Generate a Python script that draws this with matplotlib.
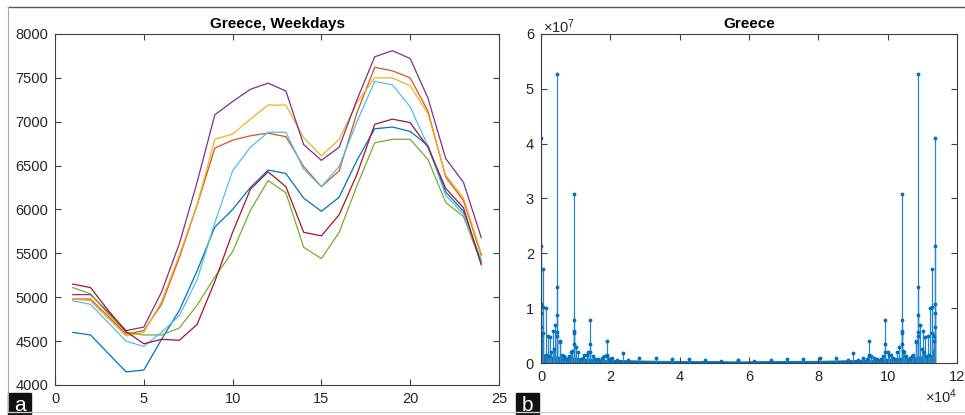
import numpy as np
import matplotlib
matplotlib.use("Agg")
import matplotlib.pyplot as plt
from matplotlib.lines import Line2D
from matplotlib.patches import Rectangle

plt.rcParams['font.family'] = ['Liberation Sans', 'DejaVu Sans']
plt.rcParams['mathtext.fontset'] = 'custom'
plt.rcParams['mathtext.rm'] = 'Liberation Sans'

# ---------------- Panel a data ----------------
hours = list(range(1, 25))
s_blue = [4600, 4570, 4360, 4150, 4170, 4520, 4850, 5300, 5800, 6000, 6250, 6450,
          6410, 6130, 5980, 6140, 6560, 6920, 6940, 6890, 6730, 6200, 5980, 5400]
s_orange = [4980, 4980, 4780, 4580, 4620, 4920, 5450, 6050, 6700, 6790, 6840, 6870,
            6830, 6490, 6260, 6440, 7100, 7620, 7580, 7500, 7120, 6370, 6100, 5480]
s_yellow = [4980, 4960, 4760, 4560, 4600, 4950, 5480, 6050, 6800, 6860, 7030, 7190,
            7190, 6820, 6610, 6800, 7220, 7500, 7500, 7410, 7090, 6390, 6130, 5500]
s_purple = [5030, 5030, 4830, 4620, 4660, 5060, 5610, 6310, 7080, 7230, 7370, 7440,
            7350, 6740, 6560, 6710, 7250, 7740, 7810, 7720, 7270, 6580, 6310, 5680]
s_green = [5110, 5040, 4810, 4600, 4570, 4570, 4650, 4910, 5230, 5520, 5990, 6330,
           6190, 5570, 5440, 5740, 6270, 6760, 6800, 6800, 6570, 6080, 5920, 5390]
s_lightblue = [4960, 4920, 4710, 4500, 4440, 4600, 4790, 5200, 5850, 6440, 6710, 6880,
               6880, 6460, 6260, 6490, 7000, 7460, 7420, 7170, 6720, 6160, 5950, 5430]
s_red = [5150, 5110, 4850, 4610, 4470, 4520, 4510, 4690, 5180, 5740, 6230, 6430,
         6260, 5740, 5700, 5940, 6400, 6970, 7030, 6990, 6710, 6240, 6020, 5370]
series_a = [s_blue, s_orange, s_yellow, s_purple, s_green, s_lightblue, s_red]
colors_a = ['#0072BD', '#D95319', '#EDB120', '#7E2F8E', '#77AC30', '#4DBEEE', '#A2142F']

# ---------------- Panel b data ----------------
N_bins = 113520  # length of spectrum (symmetric)
spike_bins = [1, 2, 3, 5, 8, 13, 20,
              670, 676, 682, 1352, 1500, 2028, 2400, 2704, 3000, 3380, 3700, 4054,
              4716, 4723, 4730, 4737, 4744, 5406, 5470, 6082, 6500, 7000, 7500, 8200,
              8780, 9000, 9446, 9453, 9460, 9467, 9474, 10136, 10812, 11500, 12000,
              12500, 13200, 13514, 14183, 14190, 14197, 14866, 15500, 16500, 17500,
              18244, 18913, 18920, 18927, 19596, 20500, 22000, 23650, 25000, 28380,
              33110, 37840, 42570, 47300, 52030, 56760]
spike_vals = [4.10, 2.13, 1.07, 0.92, 0.65, 0.50, 0.40,
              1.03, 1.72, 0.55, 1.00, 0.15, 0.50, 0.12, 0.48, 0.20, 0.58, 0.25, 0.70,
              0.57, 0.88, 5.27, 1.38, 0.50, 0.40, 0.38, 0.15, 0.12, 0.10, 0.08, 0.12,
              0.20, 0.22, 0.55, 0.79, 3.08, 0.58, 0.35, 0.30, 0.20, 0.08, 0.10,
              0.15, 0.15, 0.20, 0.35, 0.78, 0.20, 0.12, 0.08, 0.07, 0.10,
              0.12, 0.15, 0.40, 0.12, 0.08, 0.10, 0.05, 0.18, 0.06, 0.10,
              0.09, 0.07, 0.08, 0.06, 0.04, 0.05]
floor_bins = [0, 200, 500, 1000, 2500, 5000, 7500, 10000, 12500, 15000, 17500,
              20000, 25000, 30000, 35000, 40000, 45000, 50000, 55000, 56760]
floor_vals = [0.50, 0.30, 0.18, 0.14, 0.12, 0.12, 0.09, 0.10, 0.08, 0.08, 0.06,
              0.06, 0.05, 0.045, 0.04, 0.04, 0.035, 0.035, 0.03, 0.03]
b_xticks = [0, 2, 4, 6, 8, 10, 12]      # x1e4
b_yticks = [0, 1, 2, 3, 4, 5, 6]        # x1e7

# ---------------- Figure ----------------
fig = plt.figure(figsize=(9.65, 4.15), dpi=100)
W, H = 965, 415

def ax_rect(l, r, t, b):
    return [l / W, (H - b) / H, (r - l) / W, (b - t) / H]

axcol = '#404040'
txtcol = '#262626'

def style(ax):
    for sp in ax.spines.values():
        sp.set_color(axcol)
        sp.set_linewidth(0.8)
    ax.tick_params(direction='in', top=True, right=True, length=4, width=0.8,
                   color=axcol, labelcolor=txtcol, labelsize=10.5, pad=5)

# Panel a
ax1 = fig.add_axes(ax_rect(55, 499, 34, 385))
for s, c in zip(series_a, colors_a):
    ax1.plot(hours, s, color=c, lw=0.9)
ax1.set_xlim(0, 25)
ax1.set_ylim(4000, 8000)
ax1.set_xticks([0, 5, 10, 15, 20, 25])
ax1.set_yticks(list(range(4000, 8001, 500)))
ax1.set_title('Greece, Weekdays', fontsize=11, fontweight='bold', pad=4)
style(ax1)

# Panel b
ax2 = fig.add_axes(ax_rect(541, 957, 34, 363))
blue = '#0072BD'
fb = np.array(floor_bins, dtype=float)
fv = np.array(floor_vals) * 1e7
fx = np.concatenate([fb, (N_bins - fb)[::-1]])
fy = np.concatenate([fv, fv[::-1]])
ax2.fill_between(fx, 0, fy, color=blue, lw=0.6)
sb = np.array(spike_bins, dtype=float)
sv = np.array(spike_vals) * 1e7
sx = np.concatenate([sb, N_bins - sb])
sy = np.concatenate([sv, sv])
ax2.vlines(sx, 0, sy, color='#2a86c8', lw=0.9)
ax2.plot(sx, sy, ls='none', marker='.', ms=3.5, color=blue)
ax2.set_xlim(0, 120000)
ax2.set_ylim(0, 6e7)
ax2.set_xticks([v * 1e4 for v in b_xticks])
ax2.set_xticklabels([str(v) for v in b_xticks])
ax2.set_yticks([v * 1e7 for v in b_yticks])
ax2.set_yticklabels([str(v) for v in b_yticks])
ax2.set_title('Greece', fontsize=11, fontweight='bold', pad=4)
style(ax2)
fig.text(543 / W, (H - 33) / H, r'$\times\mathregular{10^{7}}$', fontsize=10.5,
         color=txtcol, ha='left', va='baseline')
fig.text(957 / W, (H - 403) / H, r'$\times\mathregular{10^{4}}$', fontsize=10.5,
         color=txtcol, ha='right', va='baseline')

# Frame lines
fig.add_artist(Line2D([8 / W, 1], [(H - 7) / H] * 2, color='#555555', lw=1.0))
fig.add_artist(Line2D([8 / W, 1], [(H - 412) / H] * 2, color='#cccccc', lw=1.0))
fig.add_artist(Line2D([8 / W] * 2, [(H - 412) / H, (H - 7) / H], color='#aaaaaa', lw=0.8))

# Panel labels
for lx, lab in [(8, 'a'), (516, 'b')]:
    fig.add_artist(Rectangle((lx / W, 0), 23 / W, 22 / H, color='#111111',
                             transform=fig.transFigure))
    fig.text((lx + 11.5) / W, 10 / H, lab, color='white', fontsize=15,
             ha='center', va='center')

fig.savefig('out.png', dpi=100)
